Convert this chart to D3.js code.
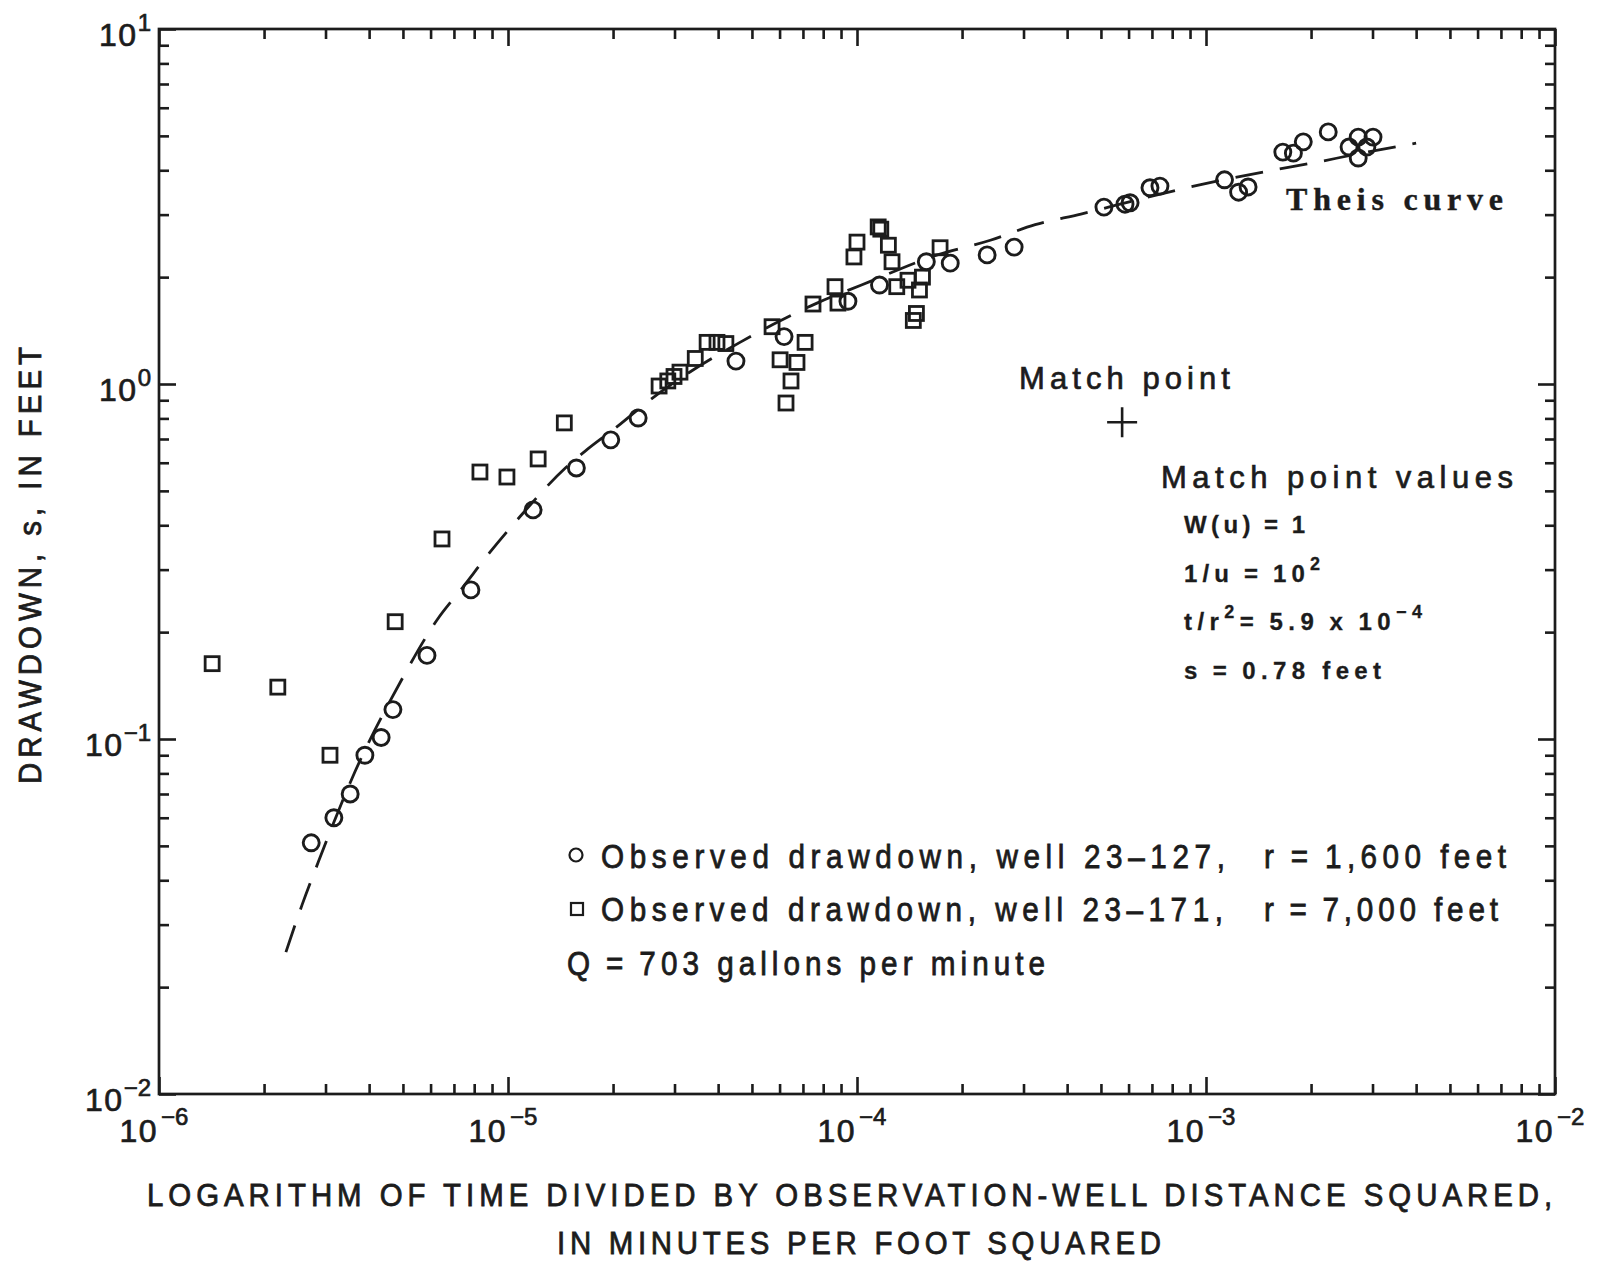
<!DOCTYPE html>
<html>
<head>
<meta charset="utf-8">
<script src="https://cdn.jsdelivr.net/npm/d3@7"></script>
<style>
  body { margin: 0; background: #fff; }
  svg { display: block; }
</style>
</head>
<body>
<svg id="chart" width="1614" height="1265"></svg>
<script>
// ---------------- DATA ----------------
// Well 23-127 (circles): t/r^2 (min/ft^2) and drawdown s (ft)
const circleT = [2.73e-6, 3.17e-6, 3.53e-6, 3.89e-6, 4.33e-6, 4.68e-6, 5.86e-6, 7.83e-6, 1.18e-5, 1.57e-5,
  1.97e-5, 2.36e-5, 4.50e-5, 6.18e-5, 9.42e-5, 1.16e-4, 1.58e-4, 1.85e-4, 2.36e-4, 2.82e-4,
  5.10e-4, 5.86e-4, 6.06e-4, 6.91e-4, 7.38e-4, 1.13e-3, 1.24e-3, 1.32e-3, 1.66e-3, 1.78e-3,
  1.90e-3, 2.24e-3, 2.57e-3, 2.73e-3, 3.01e-3, 2.73e-3, 2.89e-3];
const circleS = [0.051, 0.060, 0.070, 0.090, 0.101, 0.121, 0.172, 0.263, 0.442, 0.580,
  0.696, 0.802, 1.16, 1.36, 1.71, 1.90, 2.21, 2.19, 2.31, 2.43,
  3.15, 3.21, 3.24, 3.57, 3.61, 3.76, 3.47, 3.59, 4.50, 4.47,
  4.81, 5.13, 4.65, 4.96, 4.96, 4.33, 4.65];

// Well 23-171 (squares)
const squareT = [1.42e-6, 2.19e-6, 3.09e-6, 4.75e-6, 6.47e-6, 8.31e-6, 9.93e-6, 1.22e-5, 1.45e-5, 2.71e-5,
  2.87e-5, 2.99e-5, 3.11e-5, 3.44e-5, 3.72e-5, 3.97e-5, 4.21e-5, 5.71e-5, 6.02e-5, 6.73e-5,
  6.47e-5, 6.26e-5, 7.10e-5, 7.48e-5, 8.65e-5, 8.82e-5, 9.80e-5, 1.00e-4, 1.15e-4, 1.17e-4,
  1.23e-4, 1.26e-4, 1.30e-4, 1.40e-4, 1.51e-4, 1.54e-4, 1.45e-4, 1.48e-4, 1.73e-4];
const squareS = [0.163, 0.140, 0.090, 0.214, 0.366, 0.565, 0.547, 0.615, 0.777, 0.987,
  1.02, 1.05, 1.08, 1.18, 1.31, 1.31, 1.30, 1.45, 1.17, 1.15,
  1.02, 0.884, 1.31, 1.68, 1.88, 1.69, 2.28, 2.51, 2.77, 2.73,
  2.46, 2.21, 1.88, 1.96, 1.84, 2.00, 1.51, 1.58, 2.42];

// Theis type curve
const theisT = [2.31e-6, 2.57e-6, 2.86e-6, 3.64e-6, 4.90e-6, 6.26e-6, 7.43e-6, 8.88e-6, 1.08e-5, 1.46e-5,
  1.68e-5, 2.05e-5, 2.55e-5, 3.22e-5, 4.62e-5, 5.74e-5, 7.68e-5, 1.03e-4, 1.70e-4, 2.41e-4,
  3.24e-4, 4.38e-4, 6.34e-4, 1.05e-3, 1.51e-3, 2.09e-3, 2.64e-3, 4.00e-3];
const theisS = [0.0251, 0.0341, 0.045, 0.0807, 0.1438, 0.2164, 0.268, 0.336, 0.422, 0.580,
  0.652, 0.757, 0.901, 1.06, 1.31, 1.47, 1.69, 1.90, 2.31, 2.54,
  2.81, 3.01, 3.30, 3.71, 3.98, 4.22, 4.42, 4.77];

// Match point
const matchT = 5.75e-4;
const matchS = 0.78;

// Tick exponents
const xTickExps = [-6, -5, -4, -3, -2];
const yTickExps = [1, 0, -1, -2];

// Text
const yTitle = "DRAWDOWN, s, IN FEET";
const xTitle1 = "LOGARITHM OF TIME DIVIDED BY OBSERVATION-WELL DISTANCE SQUARED,";
const xTitle2 = "IN MINUTES PER FOOT SQUARED";
const legendCircleText = ["Observed drawdown, well 23\u2013127,", "r\u2009=\u20091,600 feet"];
const legendSquareText = ["Observed drawdown, well 23\u2013171,", "r\u2009=\u20097,000 feet"];
const legendQ = "Q\u2009=\u2009703 gallons per minute";

// ---------------- LAYOUT ----------------
const L = 159, R = 1555, T = 29, B = 1094;
const ink = "#1c1c1c";
const sans = "'Liberation Sans',Arial,Helvetica,sans-serif";
const serif = "'Liberation Serif','Times New Roman',serif";

const svg = d3.select("#chart");
svg.append("rect").attr("width", 1614).attr("height", 1265).attr("fill", "#fff");

const x = d3.scaleLog().domain([1e-6, 1e-2]).range([L, R]);
const y = d3.scaleLog().domain([1e-2, 10]).range([B, T]);

function minorTicks(scale) {
  const [a, b] = scale.domain();
  const out = [];
  for (let e = Math.round(Math.log10(a)); e < Math.round(Math.log10(b)); e++)
    for (let m = 2; m <= 9; m++) out.push(m * Math.pow(10, e));
  return out;
}
const majorX = xTickExps.map(e => Math.pow(10, e));
const majorY = yTickExps.map(e => Math.pow(10, e));

function drawAxis(axisFn, scale, vals, size, transform) {
  const g = svg.append("g").attr("transform", transform)
    .style("color", ink)
    .call(axisFn(scale).tickValues(vals).tickSize(-size).tickFormat(""));
  g.select(".domain").remove();
  g.selectAll(".tick line").attr("stroke-width", 2.6);
}
const minor = 10, major = 17;
drawAxis(d3.axisBottom, x, minorTicks(x), minor, `translate(0,${B})`);
drawAxis(d3.axisBottom, x, majorX, major, `translate(0,${B})`);
drawAxis(d3.axisTop, x, minorTicks(x), minor, `translate(0,${T})`);
drawAxis(d3.axisTop, x, majorX, major, `translate(0,${T})`);
drawAxis(d3.axisLeft, y, minorTicks(y), minor, `translate(${L},0)`);
drawAxis(d3.axisLeft, y, majorY, major, `translate(${L},0)`);
drawAxis(d3.axisRight, y, minorTicks(y), minor, `translate(${R},0)`);
drawAxis(d3.axisRight, y, majorY, major, `translate(${R},0)`);

// frame
svg.append("rect").attr("x", L).attr("y", T).attr("width", R - L).attr("height", B - T)
  .attr("fill", "none").attr("stroke", ink).attr("stroke-width", 2.7);

const supTxt = e => (e < 0 ? "\u2212" + Math.abs(e) : String(e));
const heavy = sel => sel.attr("stroke", ink).attr("stroke-width", 0.7).attr("fill", ink);

// x tick labels
xTickExps.forEach(e => {
  const px = x(Math.pow(10, e));
  heavy(svg.append("text").attr("x", px - 1).attr("y", B + 48).attr("text-anchor", "end")
    .attr("font-family", sans).attr("font-size", 32).attr("letter-spacing", 1.5).text("10"));
  heavy(svg.append("text").attr("x", px + 2).attr("y", B + 31)
    .attr("font-family", sans).attr("font-size", 24).text(supTxt(e)));
});
// y tick labels
yTickExps.forEach(e => {
  const py = y(Math.pow(10, e));
  const t = heavy(svg.append("text").attr("x", 151).attr("y", py + 17).attr("text-anchor", "end")
    .attr("font-family", sans));
  t.append("tspan").attr("font-size", 32).attr("letter-spacing", 1.5).text("10");
  t.append("tspan").attr("font-size", 24).attr("dy", -15).text(supTxt(e));
});

function fit(sel, w) {
  sel.each(function () {
    const n = this.getComputedTextLength();
    const len = this.textContent.length;
    d3.select(this).attr("letter-spacing", ((w - n) / (len - 1)).toFixed(2) + "px");
  });
  return sel;
}
// slightly condensed text: horizontally squeezed glyphs
function ctext(s, tr, w, size, sx, anchor) {
  const t = heavy(svg.append("text").attr("transform", `${tr} scale(${sx},1)`)
    .attr("text-anchor", anchor || "start")
    .attr("font-family", sans).attr("font-size", size).text(s));
  t.attr("stroke-width", 0.8);
  fit(t, w / sx);
  return t;
}

// axis titles
ctext(yTitle, "translate(41,563) rotate(-90)", 437, 32, 0.92, "middle");
ctext(xTitle1, "translate(147,1206)", 1405, 32, 0.92);
ctext(xTitle2, "translate(557,1254)", 604, 32, 0.92);

// Theis curve
const line = d3.line().x(d => x(d[0])).y(d => y(d[1])).curve(d3.curveMonotoneX);
svg.append("path").datum(theisT.map((t, i) => [t, theisS[i]]))
  .attr("d", line).attr("fill", "none").attr("stroke", ink)
  .attr("stroke-width", 2.8).attr("stroke-dasharray", "28 17");

// squares
const sq = 14;
svg.append("g").selectAll("rect").data(squareT.map((t, i) => [t, squareS[i]])).join("rect")
  .attr("x", d => x(d[0]) - sq / 2).attr("y", d => y(d[1]) - sq / 2)
  .attr("width", sq).attr("height", sq)
  .attr("fill", "none").attr("stroke", ink).attr("stroke-width", 2.8);

// circles
svg.append("g").selectAll("circle").data(circleT.map((t, i) => [t, circleS[i]])).join("circle")
  .attr("cx", d => x(d[0])).attr("cy", d => y(d[1])).attr("r", 8)
  .attr("fill", "none").attr("stroke", ink).attr("stroke-width", 2.9);

// Theis label
fit(svg.append("text").attr("x", 1286).attr("y", 210)
  .attr("font-family", serif).attr("font-weight", "bold").attr("font-size", 32).attr("fill", ink)
  .attr("stroke", ink).attr("stroke-width", 0.4)
  .text("Theis curve"), 217);

// Match point
const mx = x(matchT), my = y(matchS);
svg.append("path").attr("d", `M${mx - 15},${my}H${mx + 15}M${mx},${my - 15}V${my + 15}`)
  .attr("stroke", ink).attr("stroke-width", 2.6).attr("fill", "none");
fit(heavy(svg.append("text").attr("x", 1019).attr("y", 389)
  .attr("font-family", sans).attr("font-size", 31).text("Match point")), 211);
fit(heavy(svg.append("text").attr("x", 1161).attr("y", 488)
  .attr("font-family", sans).attr("font-size", 31).text("Match point values")), 352);

function mline(parts, yy, w) {
  const t = svg.append("text").attr("x", 1184).attr("y", yy)
    .attr("font-family", sans).attr("font-weight", "bold").attr("font-size", 24).attr("fill", ink)
    .attr("stroke", ink).attr("stroke-width", 0.3);
  parts.forEach(p => {
    if (p.sup) t.append("tspan").attr("font-size", 18).attr("dy", -12).text(p.s);
    else t.append("tspan").attr("dy", p.down ? 12 : 0).text(p.s);
  });
  fit(t, w);
}
const th = "\u2009";
mline([{ s: `W(u)${th}=${th}1` }], 533, 121);
mline([{ s: `1/u${th}=${th}10` }, { s: "2", sup: true }], 582, 136);
mline([{ s: "t/r" }, { s: "2", sup: true }, { s: `=${th}5.9${th}x${th}10`, down: true }, { s: "\u22124", sup: true }], 630, 238);
mline([{ s: `s${th}=${th}0.78 feet` }], 679, 197);

// Legend
svg.append("circle").attr("cx", 576).attr("cy", 855).attr("r", 6.5)
  .attr("fill", "none").attr("stroke", ink).attr("stroke-width", 2.2);
svg.append("rect").attr("x", 571).attr("y", 903).attr("width", 12).attr("height", 12)
  .attr("fill", "none").attr("stroke", ink).attr("stroke-width", 2.2);
function ltext(s, xx, yy, w) {
  ctext(s, `translate(${xx},${yy})`, w, 33, 0.9);
}
ltext(legendCircleText[0], 601, 868, 624);
ltext(legendCircleText[1], 1264, 868, 242);
ltext(legendSquareText[0], 601, 921, 622);
ltext(legendSquareText[1], 1264, 921, 234);
ltext(legendQ, 567, 975, 478);
</script>
</body>
</html>
